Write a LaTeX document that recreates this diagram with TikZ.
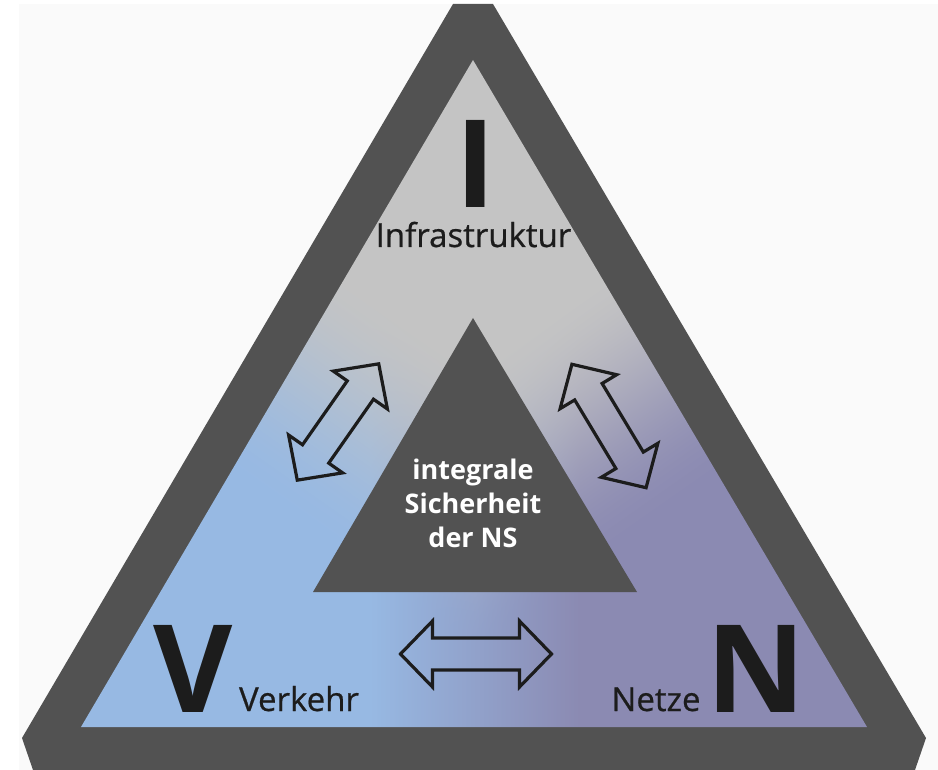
\documentclass[tikz,border=0pt]{standalone}
\usepackage{fontspec}
\setmainfont{Open Sans}
\newfontfamily\labelFont[FakeBold=0.6]{Open Sans}
\usepackage{tikz}
\definecolor{frameGrey}{RGB}{82,82,82}
\definecolor{inkBlack}{RGB}{28,28,28}
\definecolor{paperGrey}{RGB}{250,250,250}
\newcommand{\bigLetterSize}{\fontsize{61}{61}\selectfont}
\newcommand{\labelSize}{\fontsize{16.5}{16.5}\selectfont}
\newcommand{\coreSize}{\fontsize{13.5}{17}\selectfont}
\pgfdeclarefunctionalshading{tricolour}{\pgfpointorigin}{\pgfpoint{100bp}{100bp}}{}{
  exch 25 sub 18.76 mul exch
  25 sub 15.4 mul 770 exch sub
  1 index 370 sub 210 div
  dup 0 lt {pop 0} if dup 1 gt {pop 1} if
  3 1 roll
  exch 475 sub abs 0.7 mul add
  650 exch sub 290 div
  dup 0 lt {pop 0} if dup 1 gt {pop 1} if
  dup dup mul exch 2 mul 3 exch sub mul
  1 index -0.047 mul 0.592 add
  1 index 0.769 mul exch
  2 index 1 exch sub mul add
  3 1 roll
  1 index -0.184 mul 0.725 add
  1 index 0.769 mul exch
  2 index 1 exch sub mul add
  3 1 roll
  1 index -0.192 mul 0.890 add
  1 index 0.769 mul exch
  2 index 1 exch sub mul add
  3 1 roll pop pop
}

\begin{document}
\begin{tikzpicture}[x=0.5pt, y=-0.5pt]
  \tikzset{
    bigletter/.style={font=\bfseries\bigLetterSize, text=inkBlack, inner sep=0pt, anchor=base},
    sidelabel/.style={font=\labelFont\labelSize, text=inkBlack, inner sep=0pt, anchor=base},
    coretext/.style={font=\bfseries\coreSize, text=white, inner sep=0pt, anchor=north, align=center},
    arrowline/.style={draw=inkBlack, line width=1.6pt, line join=miter},
    pics/dblarrow/.style={code={
      \draw[arrowline] (-#1,0) -- (-#1+32,-33) -- (-#1+32,-16) -- (#1-32,-16)
        -- (#1-32,-33) -- (#1,0) -- (#1-32,33) -- (#1-32,16) -- (-#1+32,16)
        -- (-#1+32,33) -- cycle;
    }}
  }
  \useasboundingbox (0,0) rectangle (938,770);
  \fill[paperGrey] (19,4) rectangle (938,770);
  % outer frame
  \fill[frameGrey] (453,4) -- (493,4) -- (926,738) -- (915,770) -- (33,770) -- (22,738) -- cycle;
  % coloured field
  \begin{scope}
    \clip (473,60) -- (867,727) -- (81,727) -- cycle;
    \shade[shading=tricolour] (0,0) rectangle (938,770);
  \end{scope}
  % core
  \fill[frameGrey] (473,318) -- (637,592) -- (313,592) -- cycle;
  \node[coretext] (core) at (473,459) {integrale\\Sicherheit\\der NS};
  % corners
  \node[bigletter] (letterI) at (475.5,208) {I};
  \node[sidelabel] (infra) at (473.5,247) {Infrastruktur};
  \node[bigletter] (letterV) at (193.5,712) {V};
  \node[sidelabel] (verkehr) at (299,711) {Verkehr};
  \node[bigletter] (letterN) at (756,712) {N};
  \node[sidelabel] (netze) at (656,711) {Netze};
  % arrows
  \pic[rotate=55] at (338,422) {dblarrow=71};
  \pic[rotate=-59] at (609,426) {dblarrow=72};
  \pic at (476,654) {dblarrow=75.5};
\end{tikzpicture}
\end{document}
